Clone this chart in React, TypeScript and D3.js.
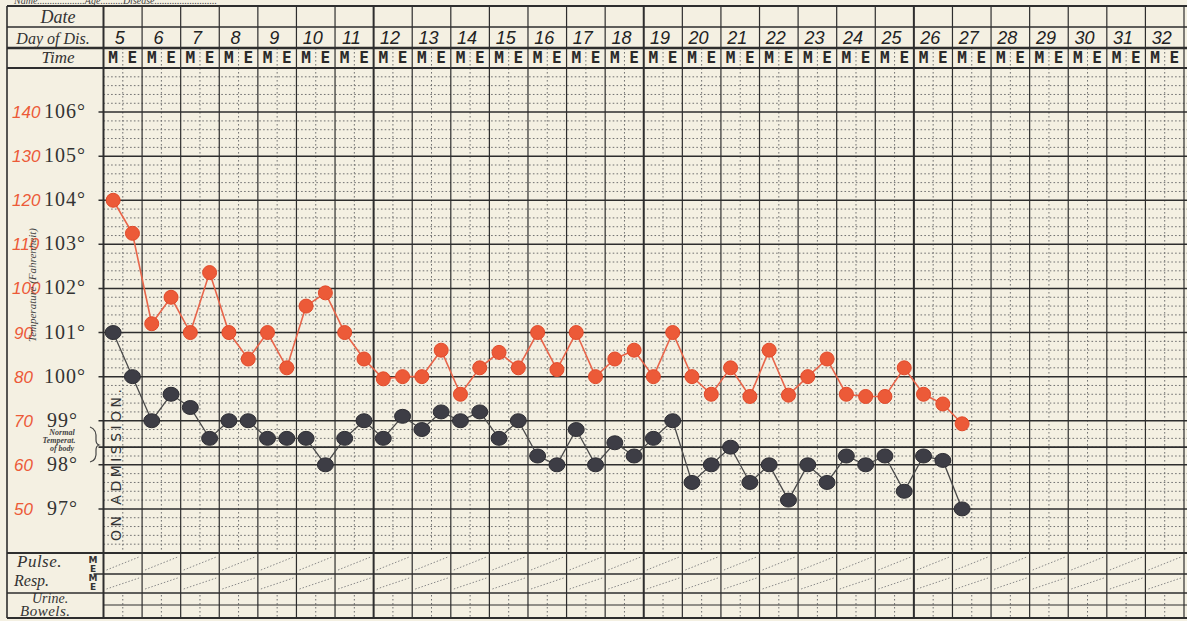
import React from "react";
import * as d3 from "d3";

// ---- data ----
const dayLabels = [5, 6, 7, 8, 9, 10, 11, 12, 13, 14, 15, 16, 17, 18, 19, 20, 21, 22, 23, 24, 25, 26, 27, 28, 29, 30, 31, 32];
const times = ["M", "E"];
const degreeTicks = [106, 105, 104, 103, 102, 101, 100, 99, 98, 97];
const pulseTicks = [140, 130, 120, 110, 100, 90, 80, 70, 60, 50];
// red series (pulse), one value per half-day, from day 5 M
const pulse = [120, 112.5, 92, 98, 90, 103.6, 90, 84, 90, 82, 96, 99, 90, 84, 79.5, 80, 80, 86, 76, 82, 85.5, 82, 90, 81.6, 90, 80, 84, 86, 80, 90, 80, 76, 82, 75.5, 86, 75.8, 80, 84, 76, 75.5, 75.5, 82, 76, 73.8, 69.3];
// black series (temperature °F)
const temperature = [101.0, 100.0, 99.0, 99.6, 99.3, 98.6, 99.0, 99.0, 98.6, 98.6, 98.6, 98.0, 98.6, 99.0, 98.6, 99.1, 98.8, 99.2, 99.0, 99.2, 98.6, 99.0, 98.2, 98.0, 98.8, 98.0, 98.5, 98.2, 98.6, 99.0, 97.6, 98.0, 98.4, 97.6, 98.0, 97.2, 98.0, 97.6, 98.2, 98.0, 98.2, 97.4, 98.2, 98.1, 97.0];
const normalTemp = 98.4;

const W = 1187;
const H = 621;
const BG = "#f4f0e2";
const INK = "#2e2e2e";
const DOT = "#707070";
const RED = "#ec5a38";
const REDLINE = "#e8654a";
const BLACK = "#3d3d45";

export default function App() {
  const gx0 = 103.5;
  const gx1 = 1184;
  const leftX = 7;
  const yTop = 6;
  const yDateBot = 27;
  const yDayBot = 48;
  const yTimeBot = 68;
  const yPulseTop = 553;
  const yRespTop = 574;
  const yUrineTop = 593;
  const yBowelTop = 605;
  const yBottom = 618;

  const xDay = d3.scaleBand<string>().domain(dayLabels.map(String)).range([gx0, gx1]).paddingInner(0).paddingOuter(0);
  const dw = xDay.bandwidth();
  const xHalf = d3.scaleBand<string>().domain(times).range([0, dw]);
  const xPt = (i: number) => {
    const d = String(dayLabels[Math.floor(i / 2)]);
    const t = times[i % 2];
    return (xDay(d) as number) + (xHalf(t) as number) + xHalf.bandwidth() / 2;
  };
  const yT = d3.scaleLinear().domain([96, 107]).range([yPulseTop, yTimeBot]);
  const yP = d3.scaleLinear().domain([40, 150]).range([yPulseTop, yTimeBot]);

  const redLine = d3.line<number>().x((_, i) => xPt(i)).y((v) => yP(v));
  const blackLine = d3.line<number>().x((_, i) => xPt(i)).y((v) => yT(v));

  const elems: React.ReactNode[] = [];

  // dotted horizontal grid (0.2 degree)
  for (let k = 1; k < 55; k++) {
    if (k % 5 === 0) continue;
    const v = 96 + k * 0.2;
    elems.push(<line key={"hd" + k} x1={gx0} x2={W} y1={yT(v)} y2={yT(v)} stroke={DOT} strokeWidth={1} strokeDasharray="1.6 2.2" />);
  }
  // dotted vertical mid-day lines
  dayLabels.forEach((d) => {
    const xm = (xDay(String(d)) as number) + dw / 2;
    elems.push(<line key={"vm" + d} x1={xm} x2={xm} y1={yDayBot} y2={yPulseTop} stroke={DOT} strokeWidth={1} strokeDasharray="1.6 2.4" />);
    elems.push(<line key={"vb" + d} x1={xm} x2={xm} y1={yUrineTop + 2} y2={yBottom} stroke={DOT} strokeWidth={1} strokeDasharray="1.5 2.5" />);
    // diagonals in pulse / resp rows
    const xa = xDay(String(d)) as number;
    [[yPulseTop, yRespTop], [yRespTop, yUrineTop]].forEach(([a, b], j) => {
      elems.push(<line key={"dg" + d + "_" + j} x1={xa + 3} x2={xa + dw - 3} y1={b - 4} y2={a + 4} stroke="#8a8a8a" strokeWidth={1} strokeDasharray="1.5 1.8" />);
    });
  });
  // integer degree lines
  for (let v = 97; v <= 106; v++) {
    elems.push(<line key={"hi" + v} x1={gx0 - 5} x2={W} y1={yT(v)} y2={yT(v)} stroke={INK} strokeWidth={1.5} />);
  }
  // normal line
  elems.push(<line key="norm" x1={gx0 - 5} x2={W} y1={yT(normalTemp)} y2={yT(normalTemp)} stroke={INK} strokeWidth={1.8} />);

  // vertical day lines
  dayLabels.forEach((d, i) => {
    const xa = xDay(String(d)) as number;
    const heavy = i % 7 === 0;
    elems.push(<line key={"vd" + d} x1={xa} x2={xa} y1={yTop} y2={yBottom} stroke={INK} strokeWidth={heavy ? 2 : 1.2} />);
  });
  elems.push(<line key="vdEnd" x1={gx1} x2={gx1} y1={yTop} y2={yBottom} stroke={INK} strokeWidth={1.2} />);

  // full-width horizontal rules
  const rules: [number, number, number][] = [
    [yTop, 2, leftX],
    [yDateBot, 1.4, leftX],
    [yDayBot, 2.4, leftX],
    [yTimeBot, 2, leftX],
    [yPulseTop, 2, leftX],
    [yRespTop, 1.4, gx0 - 10],
    [yUrineTop, 1.6, leftX],
    [yBowelTop, 1.2, gx0],
    [yBottom, 2, leftX],
  ];
  rules.forEach(([y, w, xs], i) => {
    elems.push(<line key={"r" + i} x1={xs} x2={W} y1={y} y2={y} stroke={INK} strokeWidth={w} />);
  });
  elems.push(<line key="lb" x1={leftX} x2={leftX} y1={yTop} y2={yBottom} stroke={INK} strokeWidth={1.6} />);

  // header texts
  const dayNums = dayLabels.map((d) => (
    <text key={"dn" + d} x={(xDay(String(d)) as number) + dw / 2 - 3} y={44} textAnchor="middle" fontFamily="'Liberation Sans', sans-serif" fontStyle="italic" fontSize={18} fill="#222">{d}</text>
  ));
  const meLabels: React.ReactNode[] = [];
  dayLabels.forEach((d) => {
    times.forEach((t) => {
      const xc = (xDay(String(d)) as number) + (xHalf(t) as number) + xHalf.bandwidth() / 2;
      meLabels.push(<text key={"me" + d + t} x={xc} y={63} textAnchor="middle" fontFamily="'DejaVu Sans Mono', monospace" fontWeight="bold" fontSize={16} fill="#2a2a2a">{t}</text>);
    });
  });

  const serif = "'Liberation Serif', 'DejaVu Serif', serif";

  return (
    <div style={{ position: "absolute", left: 0, top: 0, width: W, height: H, overflow: "hidden" }}>
      <svg width={W} height={H} style={{ display: "block" }}>
        <rect x={0} y={0} width={W} height={H} fill={BG} />
        {/* partly visible header text */}
        <text x={14} y={4} fontFamily={serif} fontStyle="italic" fontSize={10} fill="#444">Name...................Age.........Disease.........................</text>
        {elems}
        {dayNums}
        {meLabels}
        <text x={58} y={23} textAnchor="middle" fontFamily={serif} fontStyle="italic" fontSize={18} fill="#333">Date</text>
        <text x={53} y={44} textAnchor="middle" fontFamily={serif} fontStyle="italic" fontSize={16} fill="#333">Day of Dis.</text>
        <text x={58} y={63} textAnchor="middle" fontFamily={serif} fontStyle="italic" fontSize={17} fill="#333">Time</text>

        {/* axis labels */}
        {degreeTicks.map((v) => (
          <text key={"dg" + v} x={v >= 100 ? 44 : 47} y={yT(v) + 6} fontFamily={serif} fontSize={20} fill="#333" letterSpacing={1}>{v}°</text>
        ))}
        {pulseTicks.map((p) => (
          <text key={"pt" + p} x={p >= 100 ? 12 : 14} y={yP(p) + 6} fontFamily="'Liberation Sans', sans-serif" fontStyle="italic" fontSize={17} fill={RED}>{p}</text>
        ))}
        <text transform="translate(36,285) rotate(-90)" textAnchor="middle" fontFamily={serif} fontStyle="italic" fontSize={11} fill="#444">Temperature (Fahrenheit)</text>
        <text x={62} y={435} textAnchor="middle" fontFamily={serif} fontStyle="italic" fontWeight="bold" fontSize={8} fill="#444">Normal</text>
        <text x={59} y={443} textAnchor="middle" fontFamily={serif} fontStyle="italic" fontWeight="bold" fontSize={8} fill="#444">Temperat.</text>
        <text x={62} y={451} textAnchor="middle" fontFamily={serif} fontStyle="italic" fontWeight="bold" fontSize={8} fill="#444">of body</text>
        <path d="M90,427 Q97,429 96,440 Q96,444 99,445 Q96,446 96,450 Q97,461 90,462" fill="none" stroke="#444" strokeWidth={1.2} />
        <text transform="translate(121,465) rotate(-90)" textAnchor="middle" fontFamily="'DejaVu Sans', sans-serif" fontSize={14} fill="#333" textLength={152} lengthAdjust="spacing">ON ADMISSION.</text>

        {/* bottom labels */}
        <text x={17} y={567} fontFamily={serif} fontStyle="italic" fontSize={17} fill="#333" letterSpacing={0.5}>Pulse.</text>
        <text x={14} y={586} fontFamily={serif} fontStyle="italic" fontSize={16} fill="#333">Resp.</text>
        <text x={32} y={603} fontFamily={serif} fontStyle="italic" fontSize={14} fill="#333">Urine.</text>
        <text x={20} y={616} fontFamily={serif} fontStyle="italic" fontSize={15} fill="#333" letterSpacing={0.5}>Bowels.</text>
        {["M", "E", "M", "E"].map((t, i) => (
          <text key={"sme" + i} x={93} y={563 + i * 9} textAnchor="middle" fontFamily="'DejaVu Sans', sans-serif" fontWeight="bold" fontSize={9} fill="#333">{t}</text>
        ))}

        {/* series */}
        <path d={redLine(pulse) || ""} fill="none" stroke={REDLINE} strokeWidth={1.6} />
        <path d={blackLine(temperature) || ""} fill="none" stroke="#4a4a4a" strokeWidth={1.3} />
        {pulse.map((v, i) => (
          <circle key={"rp" + i} cx={xPt(i)} cy={yP(v)} r={7} fill={RED} stroke="#e24a2a" strokeWidth={1} />
        ))}
        {temperature.map((v, i) => (
          <ellipse key={"bp" + i} cx={xPt(i)} cy={yT(v)} rx={8} ry={7} fill={BLACK} stroke="#2e2e34" strokeWidth={1} />
        ))}
      </svg>
    </div>
  );
}
